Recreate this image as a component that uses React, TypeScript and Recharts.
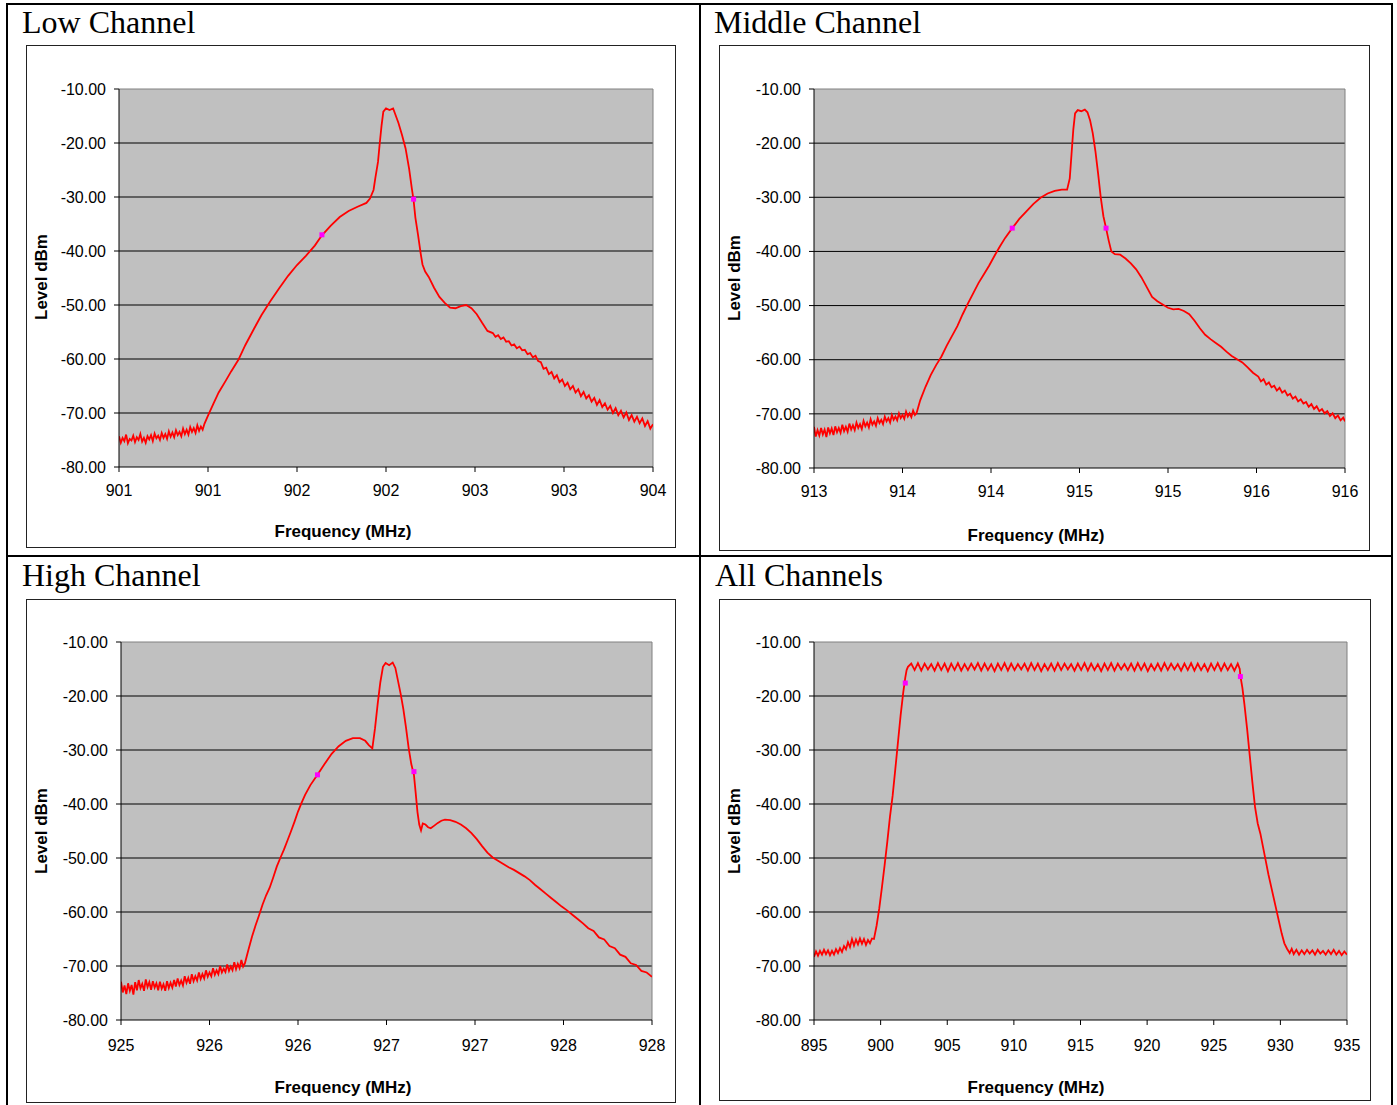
import React from "react";
import {
  ComposedChart,
  Line,
  Scatter,
  XAxis,
  YAxis,
  CartesianGrid,
  ReferenceLine,
} from "recharts";

// spectrum traces, [frequency MHz, level dBm]
const lowTrace: [number, number][] = [
  [900.9, -74.3], [900.91, -75.5], [900.92, -74.6], [900.93, -75.2], [900.94, -74.0],
  [900.95, -75.6], [900.96, -74.8], [900.97, -75.1], [900.98, -74.2], [900.99, -75.4],
  [901.0, -74.5], [901.01, -75.0], [901.02, -73.9], [901.03, -75.3], [901.04, -74.6],
  [901.05, -75.5], [901.06, -74.3], [901.07, -74.9], [901.08, -74.1], [901.09, -75.2],
  [901.1, -73.8], [901.11, -74.7], [901.12, -74.2], [901.13, -75.0], [901.14, -73.7],
  [901.15, -74.6], [901.16, -73.9], [901.17, -74.8], [901.18, -73.4], [901.19, -74.4],
  [901.2, -73.6], [901.21, -74.5], [901.22, -73.2], [901.23, -74.1], [901.24, -73.5],
  [901.25, -74.3], [901.26, -72.9], [901.27, -73.9], [901.28, -73.1], [901.29, -74.0],
  [901.3, -72.6], [901.31, -73.5], [901.32, -72.8], [901.33, -73.7], [901.34, -72.3],
  [901.35, -73.3], [901.36, -72.5], [901.37, -73.1], [901.38, -72.0],
  [901.4, -70.5], [901.43, -68.3], [901.46, -66.2], [901.5, -64.0], [901.53, -62.3],
  [901.57, -60.2], [901.61, -57.4], [901.66, -54.3], [901.7, -51.9], [901.75, -49.3],
  [901.8, -46.9], [901.85, -44.6], [901.9, -42.6], [901.95, -40.9], [902.0, -39.0],
  [902.04, -37.1], [902.09, -35.3], [902.14, -33.7], [902.19, -32.6], [902.24, -31.8],
  [902.29, -31.1], [902.31, -30.3], [902.33, -28.7], [902.34, -26.5], [902.355, -23.5],
  [902.365, -20.0], [902.375, -16.8], [902.385, -14.2], [902.4, -13.6], [902.42, -13.9],
  [902.44, -13.6], [902.45, -14.5], [902.47, -16.3], [902.49, -18.5], [902.51, -21.0],
  [902.53, -24.8], [902.545, -28.4], [902.555, -30.6], [902.565, -33.8], [902.58, -37.0],
  [902.595, -40.5], [902.605, -42.5], [902.62, -43.8], [902.64, -44.8], [902.67, -46.8],
  [902.7, -48.5], [902.73, -49.6], [902.76, -50.5], [902.79, -50.6], [902.82, -50.2],
  [902.85, -50.0], [902.88, -50.6], [902.91, -51.7], [902.94, -53.3], [902.97, -54.8],
  [903.0, -55.2], [903.015, -55.9], [903.03, -55.6], [903.045, -56.3], [903.06, -56.0],
  [903.075, -56.8], [903.09, -56.7], [903.105, -57.5], [903.12, -57.3], [903.135, -58.0],
  [903.15, -57.7], [903.165, -58.4], [903.18, -58.3], [903.195, -59.1], [903.21, -58.9],
  [903.225, -59.7], [903.24, -59.4], [903.255, -60.4], [903.27, -60.6], [903.285, -61.8],
  [903.3, -61.6], [903.315, -62.8], [903.33, -62.4], [903.345, -63.6], [903.36, -63.0],
  [903.375, -64.3], [903.39, -63.8], [903.405, -65.0], [903.42, -64.4], [903.435, -65.6],
  [903.45, -65.0], [903.465, -66.2], [903.48, -65.6], [903.495, -66.9], [903.51, -66.1],
  [903.525, -67.3], [903.54, -66.7], [903.555, -67.9], [903.57, -67.2], [903.585, -68.5],
  [903.6, -67.6], [903.615, -68.9], [903.63, -68.2], [903.645, -69.4], [903.66, -68.7],
  [903.675, -70.0], [903.69, -69.1], [903.705, -70.4], [903.72, -69.6], [903.735, -70.8],
  [903.75, -69.9], [903.765, -71.3], [903.78, -70.4], [903.795, -71.6], [903.81, -70.7],
  [903.825, -71.9], [903.84, -71.0], [903.855, -72.4], [903.87, -71.5], [903.885, -72.9],
  [903.9, -72.1],
];
const lowMarkers: [number, number][] = [[902.04, -37.0], [902.555, -30.4]];

const midTrace: [number, number][] = [
  [913.4, -72.4], [913.41, -74.2], [913.42, -73.0], [913.43, -74.0], [913.44, -72.6],
  [913.45, -73.8], [913.46, -72.9], [913.47, -74.3], [913.48, -72.5], [913.49, -73.6],
  [913.5, -72.7], [913.51, -73.9], [913.52, -72.3], [913.53, -73.4], [913.54, -72.6],
  [913.55, -73.5], [913.56, -72.0], [913.57, -73.2], [913.58, -72.4], [913.59, -73.3],
  [913.6, -71.8], [913.61, -72.9], [913.62, -72.1], [913.63, -73.0], [913.64, -71.6],
  [913.65, -72.6], [913.66, -71.9], [913.67, -72.8], [913.68, -71.3], [913.69, -72.3],
  [913.7, -71.6], [913.71, -72.5], [913.72, -71.0], [913.73, -72.0], [913.74, -71.4],
  [913.75, -72.2], [913.76, -70.8], [913.77, -71.7], [913.78, -71.1], [913.79, -71.9],
  [913.8, -70.5], [913.81, -71.4], [913.82, -70.8], [913.83, -71.6], [913.84, -70.2],
  [913.85, -71.1], [913.86, -70.5], [913.87, -71.2], [913.88, -69.9], [913.89, -70.8],
  [913.9, -70.2], [913.91, -70.9], [913.92, -69.6], [913.93, -70.5], [913.94, -69.9],
  [913.95, -70.6], [913.96, -69.4], [913.97, -70.2], [913.98, -69.8],
  [914.0, -67.5], [914.03, -65.0], [914.06, -62.8], [914.09, -61.0], [914.12, -59.4],
  [914.15, -57.4], [914.18, -55.6], [914.21, -53.8], [914.24, -51.6], [914.27, -49.6],
  [914.3, -47.7], [914.33, -45.8], [914.36, -44.2], [914.39, -42.6], [914.42, -40.8],
  [914.45, -39.1], [914.48, -37.5], [914.52, -35.7], [914.56, -34.0], [914.6, -32.6],
  [914.64, -31.2], [914.68, -30.1], [914.72, -29.3], [914.76, -28.8], [914.8, -28.6],
  [914.83, -28.6], [914.845, -26.5], [914.855, -22.0], [914.865, -17.5], [914.875, -14.5],
  [914.89, -13.9], [914.91, -14.1], [914.93, -13.8], [914.945, -14.3], [914.96, -15.8],
  [914.975, -18.2], [914.99, -21.5], [915.005, -25.6], [915.02, -30.0], [915.035, -33.5],
  [915.05, -35.7], [915.065, -38.0], [915.08, -40.0], [915.1, -40.5], [915.13, -40.6],
  [915.16, -41.3], [915.19, -42.2], [915.22, -43.3], [915.25, -44.8], [915.28, -46.6],
  [915.31, -48.4], [915.34, -49.2], [915.37, -49.8], [915.4, -50.4], [915.43, -50.7],
  [915.46, -50.6], [915.49, -51.0], [915.52, -51.6], [915.55, -52.8], [915.58, -54.2],
  [915.61, -55.4], [915.64, -56.2], [915.67, -56.9], [915.7, -57.6], [915.73, -58.5],
  [915.76, -59.3], [915.79, -59.9], [915.82, -60.5], [915.85, -61.4], [915.88, -62.4],
  [915.91, -63.1], [915.925, -64.0], [915.94, -63.6], [915.955, -64.6], [915.97, -64.2],
  [915.985, -65.1], [916.0, -64.8], [916.015, -65.7], [916.03, -65.2], [916.045, -66.1],
  [916.06, -65.7], [916.075, -66.6], [916.09, -66.3], [916.105, -67.2], [916.12, -66.8],
  [916.135, -67.7], [916.15, -67.3], [916.165, -68.1], [916.18, -67.8], [916.195, -68.7],
  [916.21, -68.2], [916.225, -69.1], [916.24, -68.6], [916.255, -69.5], [916.27, -69.1],
  [916.285, -69.9], [916.3, -69.5], [916.315, -70.4], [916.33, -69.9], [916.345, -70.8],
  [916.36, -70.3], [916.375, -71.2], [916.39, -70.7], [916.4, -71.4],
];
const midMarkers: [number, number][] = [[914.52, -35.7], [915.05, -35.7]];

const highTrace: [number, number][] = [
  [925.4, -72.9], [925.41, -74.9], [925.42, -73.6], [925.43, -75.2], [925.44, -73.2],
  [925.45, -74.6], [925.46, -73.5], [925.47, -75.3], [925.48, -73.0], [925.49, -74.5],
  [925.5, -72.6], [925.51, -74.1], [925.52, -73.3], [925.53, -74.6], [925.54, -72.5],
  [925.55, -73.9], [925.56, -73.0], [925.57, -74.4], [925.58, -72.8], [925.59, -74.0],
  [925.6, -73.2], [925.61, -74.5], [925.62, -72.9], [925.63, -74.2], [925.64, -73.4],
  [925.65, -74.6], [925.66, -72.8], [925.67, -74.1], [925.68, -73.1], [925.69, -74.0],
  [925.7, -72.6], [925.71, -73.8], [925.72, -72.3], [925.73, -73.5], [925.74, -72.7],
  [925.75, -73.6], [925.76, -71.9], [925.77, -73.1], [925.78, -72.2], [925.79, -73.3],
  [925.8, -71.5], [925.81, -72.8], [925.82, -71.9], [925.83, -72.7], [925.84, -71.2],
  [925.85, -72.4], [925.86, -71.5], [925.87, -72.3], [925.88, -70.8], [925.89, -72.0],
  [925.9, -71.2], [925.91, -71.9], [925.92, -70.4], [925.93, -71.6], [925.94, -70.8],
  [925.95, -71.5], [925.96, -70.0], [925.97, -71.2], [925.98, -70.5], [925.99, -71.1],
  [926.0, -69.7], [926.01, -70.9], [926.02, -70.1], [926.03, -70.8], [926.04, -69.3],
  [926.05, -70.6], [926.06, -69.6], [926.07, -70.4], [926.08, -68.9], [926.09, -70.1],
  [926.1, -69.5], [926.12, -67.0], [926.14, -64.6], [926.16, -62.5], [926.18, -60.6],
  [926.2, -58.6], [926.22, -56.9], [926.24, -55.5], [926.26, -53.6], [926.28, -51.6],
  [926.3, -50.0], [926.32, -48.5], [926.34, -46.8], [926.36, -45.1], [926.38, -43.3],
  [926.4, -41.4], [926.42, -39.8], [926.44, -38.3], [926.47, -36.5], [926.51, -34.6],
  [926.55, -32.6], [926.59, -30.7], [926.63, -29.3], [926.67, -28.3], [926.71, -27.8],
  [926.75, -27.8], [926.78, -28.3], [926.8, -29.1], [926.82, -29.7], [926.835, -26.0],
  [926.85, -21.5], [926.865, -17.5], [926.88, -14.6], [926.895, -13.9], [926.915, -14.3],
  [926.935, -13.8], [926.95, -14.8], [926.965, -17.2], [926.98, -19.6], [926.995, -22.4],
  [927.01, -25.8], [927.025, -29.6], [927.04, -32.6], [927.055, -34.6], [927.065, -38.0],
  [927.075, -41.5], [927.085, -43.8], [927.095, -44.9], [927.105, -43.6], [927.12, -43.8],
  [927.135, -44.3], [927.15, -44.5], [927.17, -44.0], [927.19, -43.5], [927.21, -43.1],
  [927.23, -42.9], [927.26, -43.0], [927.29, -43.3], [927.32, -43.8], [927.35, -44.5],
  [927.38, -45.4], [927.41, -46.5], [927.44, -47.8], [927.47, -49.0], [927.5, -49.9],
  [927.53, -50.5], [927.56, -51.1], [927.59, -51.7], [927.62, -52.2], [927.65, -52.8],
  [927.68, -53.4], [927.71, -54.1], [927.74, -55.0], [927.77, -55.8], [927.8, -56.6],
  [927.83, -57.4], [927.86, -58.2], [927.89, -59.0], [927.92, -59.7], [927.95, -60.5],
  [927.98, -61.3], [928.01, -62.1], [928.04, -63.0], [928.07, -63.5], [928.1, -64.7],
  [928.13, -65.1], [928.16, -66.3], [928.19, -66.7], [928.22, -67.9], [928.25, -68.3],
  [928.28, -69.5], [928.31, -69.8], [928.34, -70.9], [928.37, -71.2], [928.4, -72.0],
];
const highMarkers: [number, number][] = [[926.51, -34.6], [927.055, -34.0]];

const allTrace: [number, number][] = [
  [895.0, -68.3], [895.15, -67.3], [895.3, -68.1], [895.45, -67.2], [895.6, -67.9],
  [895.75, -67.0], [895.9, -67.8], [896.05, -67.1], [896.2, -68.0], [896.35, -67.2],
  [896.5, -67.9], [896.65, -66.9], [896.8, -67.6], [896.95, -66.7], [897.1, -67.4],
  [897.25, -66.3], [897.4, -66.9], [897.55, -65.6], [897.7, -66.5], [897.85, -65.0],
  [898.0, -66.2], [898.15, -65.1], [898.3, -66.0], [898.45, -64.9], [898.6, -65.9],
  [898.75, -65.0], [898.9, -66.1], [899.05, -65.2], [899.2, -65.8], [899.35, -64.9],
  [899.5, -65.0], [899.7, -62.5], [899.9, -59.3], [900.1, -55.4], [900.3, -51.3],
  [900.5, -47.0], [900.7, -42.4], [900.9, -38.5], [901.1, -33.6], [901.3, -28.6],
  [901.5, -23.6], [901.7, -19.3], [901.85, -16.6], [901.95, -15.2], [902.05, -14.6],
  [902.3, -14.0], [902.55, -15.2], [902.8, -13.9], [903.05, -15.3], [903.3, -14.0],
  [903.55, -15.1], [903.8, -14.1], [904.05, -15.3], [904.3, -13.9], [904.55, -15.2],
  [904.8, -14.0], [905.05, -15.4], [905.3, -14.0], [905.55, -15.2], [905.8, -13.9],
  [906.05, -15.3], [906.3, -14.1], [906.55, -15.2], [906.8, -14.0], [907.05, -15.1],
  [907.3, -13.9], [907.55, -15.3], [907.8, -14.0], [908.05, -15.2], [908.3, -14.1],
  [908.55, -15.4], [908.8, -14.0], [909.05, -15.2], [909.3, -13.9], [909.55, -15.3],
  [909.8, -14.0], [910.05, -15.2], [910.3, -14.1], [910.55, -15.1], [910.8, -14.0],
  [911.05, -15.3], [911.3, -13.9], [911.55, -15.2], [911.8, -14.0], [912.05, -15.4],
  [912.3, -14.1], [912.55, -15.2], [912.8, -14.0], [913.05, -15.3], [913.3, -13.9],
  [913.55, -15.2], [913.8, -14.0], [914.05, -15.1], [914.3, -14.1], [914.55, -15.3],
  [914.8, -14.0], [915.05, -15.2], [915.3, -13.9], [915.55, -15.3], [915.8, -14.0],
  [916.05, -15.2], [916.3, -14.1], [916.55, -15.4], [916.8, -14.0], [917.05, -15.2],
  [917.3, -13.9], [917.55, -15.3], [917.8, -14.0], [918.05, -15.1], [918.3, -14.1],
  [918.55, -15.2], [918.8, -14.0], [919.05, -15.3], [919.3, -13.9], [919.55, -15.2],
  [919.8, -14.0], [920.05, -15.4], [920.3, -14.1], [920.55, -15.2], [920.8, -14.0],
  [921.05, -15.3], [921.3, -13.9], [921.55, -15.2], [921.8, -14.0], [922.05, -15.1],
  [922.3, -14.1], [922.55, -15.3], [922.8, -14.0], [923.05, -15.2], [923.3, -13.9],
  [923.55, -15.3], [923.8, -14.0], [924.05, -15.2], [924.3, -14.1], [924.55, -15.4],
  [924.8, -14.0], [925.05, -15.2], [925.3, -13.9], [925.55, -15.3], [925.8, -14.0],
  [926.05, -15.2], [926.3, -14.1], [926.55, -15.3], [926.8, -14.0], [926.95, -15.0],
  [927.0, -16.3], [927.15, -18.5], [927.3, -21.5], [927.5, -26.0], [927.7, -31.0],
  [927.9, -36.0], [928.1, -40.6], [928.3, -43.6], [928.5, -45.5], [928.7, -48.0],
  [928.9, -50.5], [929.1, -53.0], [929.3, -55.2], [929.5, -57.4], [929.7, -59.6],
  [929.9, -61.8], [930.1, -64.0], [930.3, -65.8], [930.5, -66.8], [930.7, -67.6],
  [930.85, -66.8], [931.0, -67.8], [931.2, -67.0], [931.4, -67.9], [931.6, -67.1],
  [931.8, -67.8], [932.0, -67.0], [932.2, -67.7], [932.4, -67.1], [932.6, -67.9],
  [932.8, -67.0], [933.0, -67.7], [933.2, -67.2], [933.4, -67.9], [933.6, -67.1],
  [933.8, -67.8], [934.0, -67.0], [934.2, -67.9], [934.4, -67.2], [934.6, -68.0],
  [934.8, -67.3], [935.0, -67.9],
];
const allMarkers: [number, number][] = [[901.85, -17.6], [927.0, -16.4]];

const lowTicks = [900.9, 901.4, 901.9, 902.4, 902.9, 903.4, 903.9];
const midTicks = [913.4, 913.9, 914.4, 914.9, 915.4, 915.9, 916.4];
const highTicks = [925.4, 925.9, 926.4, 926.9, 927.4, 927.9, 928.4];
const allTicks = [895, 900, 905, 910, 915, 920, 925, 930, 935];
const levelTicks = [-80, -70, -60, -50, -40, -30, -20, -10];

const toPoints = (t: [number, number][]) => t.map(([f, v]) => ({ f, v }));

const SANS = "'Liberation Sans', Arial, sans-serif";
const SERIF = "'Liberation Serif', 'Times New Roman', serif";

type Rect = { l: number; t: number; r: number; b: number };

interface PanelProps {
  title: string;
  titleX: number;
  titleTop: number;
  box: Rect;
  plot: Rect;
  trace: [number, number][];
  markers: [number, number][];
  xTicks: number[];
  xLabelGap: number;
  yTitleAt: [number, number];
  xTitleAt: [number, number];
}

const MarkerSquare = (p: any) => (
  <rect x={p.cx - 2.5} y={p.cy - 2.5} width={5} height={5} fill="#FF00FF" />
);

const Panel: React.FC<PanelProps> = ({
  title,
  titleX,
  titleTop,
  box,
  plot,
  trace,
  markers,
  xTicks,
  xLabelGap,
  yTitleAt,
  xTitleAt,
}) => {
  const w = box.r - box.l;
  const h = box.b - box.t;
  const xMin = xTicks[0];
  const xMax = xTicks[xTicks.length - 1];
  return (
    <>
      <div
        style={{
          position: "absolute",
          left: titleX,
          top: titleTop,
          fontFamily: SERIF,
          fontSize: 32,
          lineHeight: "32px",
          whiteSpace: "nowrap",
        }}
      >
        {title}
      </div>
      <div style={{ position: "absolute", left: box.l, top: box.t }}>
        <ComposedChart
          width={w}
          height={h}
          margin={{ top: plot.t - box.t, right: box.r - plot.r, left: 0, bottom: 0 }}
        >
          <CartesianGrid
            fill="#C0C0C0"
            vertical={false}
            stroke="#000"
            horizontalValues={[-70, -60, -50, -40, -30, -20]}
          />
          <XAxis
            type="number"
            dataKey="f"
            domain={[xMin, xMax]}
            ticks={xTicks}
            interval={0}
            allowDataOverflow
            height={box.b - plot.b}
            tickFormatter={(v: number) => Math.round(v).toString()}
            tick={{ fill: "#000", fontSize: 16, fontFamily: SANS }}
            tickSize={5}
            tickMargin={xLabelGap}
            axisLine={{ stroke: "#000" }}
            tickLine={{ stroke: "#000" }}
          />
          <YAxis
            type="number"
            dataKey="v"
            domain={[-80, -10]}
            ticks={levelTicks}
            interval={0}
            allowDataOverflow
            width={plot.l - box.l}
            tickFormatter={(v: number) => v.toFixed(2)}
            tick={{ fill: "#000", fontSize: 16, fontFamily: SANS }}
            tickSize={5}
            tickMargin={8}
            axisLine={{ stroke: "#000" }}
            tickLine={{ stroke: "#000" }}
          />
          <ReferenceLine y={-10} stroke="#808080" />
          <ReferenceLine x={xMax} stroke="#808080" />
          <Line
            data={toPoints(trace)}
            dataKey="v"
            type="linear"
            stroke="#FF0000"
            strokeWidth={1.8}
            dot={false}
            activeDot={false}
            isAnimationActive={false}
          />
          <Scatter
            data={toPoints(markers)}
            dataKey="v"
            shape={MarkerSquare}
            isAnimationActive={false}
          />
        </ComposedChart>
      </div>
      <div
        style={{
          position: "absolute",
          left: box.l,
          top: box.t,
          width: w,
          height: h,
          boxSizing: "border-box",
          border: "1px solid #222",
          pointerEvents: "none",
        }}
      />
      <div
        style={{
          position: "absolute",
          left: yTitleAt[0],
          top: yTitleAt[1],
          transform: "translate(-50%, -50%) rotate(-90deg)",
          fontFamily: SANS,
          fontWeight: "bold",
          fontSize: 17,
          lineHeight: "17px",
          whiteSpace: "nowrap",
        }}
      >
        Level dBm
      </div>
      <div
        style={{
          position: "absolute",
          left: xTitleAt[0],
          top: xTitleAt[1],
          transform: "translate(-50%, -50%)",
          fontFamily: SANS,
          fontWeight: "bold",
          fontSize: 17,
          lineHeight: "17px",
          whiteSpace: "nowrap",
        }}
      >
        Frequency (MHz)
      </div>
    </>
  );
};

const rule = (l: number, t: number, w: number, h: number): React.CSSProperties => ({
  position: "absolute",
  left: l,
  top: t,
  width: w,
  height: h,
  background: "#000",
});

const App: React.FC = () => {
  return (
    <div
      style={{
        position: "absolute",
        left: 0,
        top: 0,
        width: 1397,
        height: 1105,
        background: "#fff",
        overflow: "hidden",
      }}
    >
      <Panel
        title="Low Channel"
        titleX={22}
        titleTop={6}
        box={{ l: 26, t: 45, r: 676, b: 548 }}
        plot={{ l: 119, t: 89, r: 653, b: 467 }}
        trace={lowTrace}
        markers={lowMarkers}
        xTicks={lowTicks}
        xLabelGap={13}
        yTitleAt={[41, 277]}
        xTitleAt={[343, 531]}
      />
      <Panel
        title="Middle Channel"
        titleX={714}
        titleTop={6}
        box={{ l: 719, t: 45, r: 1370, b: 551 }}
        plot={{ l: 814, t: 89, r: 1345, b: 468 }}
        trace={midTrace}
        markers={midMarkers}
        xTicks={midTicks}
        xLabelGap={13}
        yTitleAt={[734, 278]}
        xTitleAt={[1036, 535]}
      />
      <Panel
        title="High Channel"
        titleX={22}
        titleTop={559}
        box={{ l: 26, t: 599, r: 676, b: 1103 }}
        plot={{ l: 121, t: 642, r: 652, b: 1020 }}
        trace={highTrace}
        markers={highMarkers}
        xTicks={highTicks}
        xLabelGap={15}
        yTitleAt={[41, 831]}
        xTitleAt={[343, 1087]}
      />
      <Panel
        title="All Channels"
        titleX={715}
        titleTop={559}
        box={{ l: 719, t: 599, r: 1371, b: 1101 }}
        plot={{ l: 814, t: 642, r: 1347, b: 1020 }}
        trace={allTrace}
        markers={allMarkers}
        xTicks={allTicks}
        xLabelGap={15}
        yTitleAt={[734, 831]}
        xTitleAt={[1036, 1087]}
      />
      {/* table rules */}
      <div style={rule(6, 3, 1387, 2)} />
      <div style={rule(6, 3, 2, 1102)} />
      <div style={rule(1391, 3, 2, 1102)} />
      <div style={rule(699, 3, 2, 1102)} />
      <div style={rule(6, 555, 1387, 2)} />
    </div>
  );
};

export default App;
